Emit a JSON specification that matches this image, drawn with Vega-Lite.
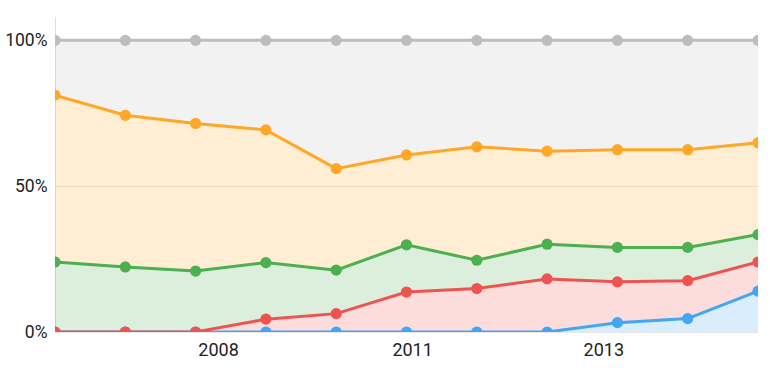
{
  "$schema": "https://vega.github.io/schema/vega-lite/v6.json",
  "width": 703,
  "height": 315,
  "autosize": {"type": "none"},
  "padding": {"left": 55, "top": 17, "right": 12, "bottom": 44},
  "background": "white",
  "config": {
    "view": {"stroke": null},
    "font": "Roboto",
    "axis": {"labelFont": "Roboto", "labelColor": "#333333"}
  },
  "data": {
    "values": [
      {"i": 0, "series": "A", "rank": 1, "value": 0},
      {"i": 1, "series": "A", "rank": 1, "value": 0},
      {"i": 2, "series": "A", "rank": 1, "value": 0},
      {"i": 3, "series": "A", "rank": 1, "value": 0},
      {"i": 4, "series": "A", "rank": 1, "value": 0},
      {"i": 5, "series": "A", "rank": 1, "value": 0},
      {"i": 6, "series": "A", "rank": 1, "value": 0},
      {"i": 7, "series": "A", "rank": 1, "value": 0},
      {"i": 8, "series": "A", "rank": 1, "value": 3.2},
      {"i": 9, "series": "A", "rank": 1, "value": 4.6},
      {"i": 10, "series": "A", "rank": 1, "value": 14.0},
      {"i": 0, "series": "B", "rank": 2, "value": 0},
      {"i": 1, "series": "B", "rank": 2, "value": 0},
      {"i": 2, "series": "B", "rank": 2, "value": 0},
      {"i": 3, "series": "B", "rank": 2, "value": 4.4},
      {"i": 4, "series": "B", "rank": 2, "value": 6.3},
      {"i": 5, "series": "B", "rank": 2, "value": 13.7},
      {"i": 6, "series": "B", "rank": 2, "value": 14.9},
      {"i": 7, "series": "B", "rank": 2, "value": 18.2},
      {"i": 8, "series": "B", "rank": 2, "value": 14.0},
      {"i": 9, "series": "B", "rank": 2, "value": 13.0},
      {"i": 10, "series": "B", "rank": 2, "value": 10.0},
      {"i": 0, "series": "C", "rank": 3, "value": 24.0},
      {"i": 1, "series": "C", "rank": 3, "value": 22.3},
      {"i": 2, "series": "C", "rank": 3, "value": 20.9},
      {"i": 3, "series": "C", "rank": 3, "value": 19.4},
      {"i": 4, "series": "C", "rank": 3, "value": 14.9},
      {"i": 5, "series": "C", "rank": 3, "value": 16.2},
      {"i": 6, "series": "C", "rank": 3, "value": 9.7},
      {"i": 7, "series": "C", "rank": 3, "value": 11.9},
      {"i": 8, "series": "C", "rank": 3, "value": 11.8},
      {"i": 9, "series": "C", "rank": 3, "value": 11.4},
      {"i": 10, "series": "C", "rank": 3, "value": 9.4},
      {"i": 0, "series": "D", "rank": 4, "value": 57.2},
      {"i": 1, "series": "D", "rank": 4, "value": 52.0},
      {"i": 2, "series": "D", "rank": 4, "value": 50.6},
      {"i": 3, "series": "D", "rank": 4, "value": 45.5},
      {"i": 4, "series": "D", "rank": 4, "value": 34.8},
      {"i": 5, "series": "D", "rank": 4, "value": 30.8},
      {"i": 6, "series": "D", "rank": 4, "value": 38.9},
      {"i": 7, "series": "D", "rank": 4, "value": 31.9},
      {"i": 8, "series": "D", "rank": 4, "value": 33.5},
      {"i": 9, "series": "D", "rank": 4, "value": 33.5},
      {"i": 10, "series": "D", "rank": 4, "value": 31.5},
      {"i": 0, "series": "E", "rank": 5, "value": 18.8},
      {"i": 1, "series": "E", "rank": 5, "value": 25.7},
      {"i": 2, "series": "E", "rank": 5, "value": 28.5},
      {"i": 3, "series": "E", "rank": 5, "value": 30.7},
      {"i": 4, "series": "E", "rank": 5, "value": 44.0},
      {"i": 5, "series": "E", "rank": 5, "value": 39.3},
      {"i": 6, "series": "E", "rank": 5, "value": 36.5},
      {"i": 7, "series": "E", "rank": 5, "value": 38.0},
      {"i": 8, "series": "E", "rank": 5, "value": 37.5},
      {"i": 9, "series": "E", "rank": 5, "value": 37.5},
      {"i": 10, "series": "E", "rank": 5, "value": 35.1}
    ]
  },
  "transform": [
    {"stack": "value", "groupby": ["i"], "sort": [{"field": "rank", "order": "ascending"}], "as": ["y0", "y1"]}
  ],
  "encoding": {
    "x": {
      "field": "i",
      "type": "quantitative",
      "scale": {"domain": [0, 10], "nice": false, "zero": false},
      "axis": {
        "title": null,
        "values": [2.32, 5.08, 7.8],
        "labelExpr": "datum.value < 3 ? '2008' : datum.value < 6 ? '2011' : '2013'",
        "ticks": false,
        "domain": false,
        "grid": false,
        "labelFontSize": 18,
        "labelPadding": 9,
        "labelColor": "#222222"
      }
    },
    "color": {
      "field": "series",
      "type": "nominal",
      "scale": {
        "domain": ["A", "B", "C", "D", "E"],
        "range": ["#42A5F5", "#EF5350", "#4CAF50", "#FFA726", "#BDBDBD"]
      },
      "legend": null
    }
  },
  "layer": [
    {
      "mark": {"type": "area", "opacity": 0.2, "clip": true},
      "encoding": {
        "y": {
          "field": "y1",
          "type": "quantitative",
          "scale": {"domain": [0, 108], "nice": false},
          "axis": {
            "title": null,
            "values": [0, 50, 100],
            "labelExpr": "datum.value + '%'",
            "ticks": false,
            "domain": true,
            "domainColor": "#dddddd",
            "grid": true,
            "gridColor": "#e6e6e6",
            "labelFontSize": 17.5,
            "labelPadding": 8,
            "labelColor": "#222222"
          }
        },
        "y2": {"field": "y0"}
      }
    },
    {
      "mark": {"type": "line", "strokeWidth": 3, "clip": true},
      "encoding": {
        "y": {"field": "y1", "type": "quantitative"}
      }
    },
    {
      "mark": {"type": "point", "filled": true, "opacity": 1, "size": 125, "clip": true},
      "encoding": {
        "y": {"field": "y1", "type": "quantitative"}
      }
    }
  ]
}
